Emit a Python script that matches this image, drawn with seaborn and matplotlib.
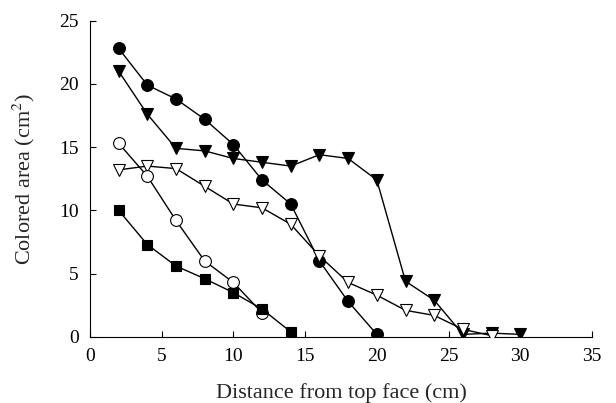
import matplotlib
matplotlib.use("Agg")
import matplotlib.pyplot as plt
import seaborn as sns
import pandas as pd

x_filled_circle = [2, 4, 6, 8, 10, 12, 14, 16, 18, 20]
y_filled_circle = [22.8, 19.9, 18.8, 17.2, 15.2, 12.4, 10.5, 6.0, 2.8, 0.2]

x_filled_tri = [2, 4, 6, 8, 10, 12, 14, 16, 18, 20, 22, 24, 26, 28, 30]
y_filled_tri = [21.0, 17.6, 14.9, 14.7, 14.1, 13.8, 13.5, 14.4, 14.1, 12.4, 4.4, 2.9, 0.2, 0.3, 0.2]

x_open_circle = [2, 4, 6, 8, 10, 12]
y_open_circle = [15.3, 12.7, 9.2, 6.0, 4.3, 1.9]

x_open_tri = [2, 4, 6, 8, 10, 12, 14, 16, 18, 20, 22, 24, 26, 28]
y_open_tri = [13.2, 13.5, 13.3, 11.9, 10.5, 10.2, 8.9, 6.4, 4.3, 3.3, 2.1, 1.7, 0.6, 0.1]

x_filled_sq = [2, 4, 6, 8, 10, 12, 14]
y_filled_sq = [10.0, 7.3, 5.6, 4.6, 3.5, 2.2, 0.4]

x_ticks = [0, 5, 10, 15, 20, 25, 30, 35]
y_ticks = [0, 5, 10, 15, 20, 25]

sns.set_theme(style="ticks")
plt.rcParams['font.family'] = ['Liberation Serif', 'DejaVu Serif']
plt.rcParams['mathtext.fontset'] = 'stix'

fig = plt.figure(figsize=(6.16, 4.03), dpi=100)
ax = fig.add_axes([0.146, 0.164, 0.815, 0.785])

series = [
    (x_filled_tri, y_filled_tri, 'v', 'black', 9),
    (x_filled_circle, y_filled_circle, 'o', 'black', 8.5),
    (x_open_tri, y_open_tri, 'v', 'white', 9),
    (x_open_circle, y_open_circle, 'o', 'white', 8.5),
    (x_filled_sq, y_filled_sq, 's', 'black', 7.5),
]
for xs, ys, m, fc, ms in series:
    df = pd.DataFrame({'x': xs, 'y': ys})
    sns.lineplot(data=df, x='x', y='y', ax=ax, color='black', linewidth=1.0,
                 marker=m, markersize=ms, markerfacecolor=fc,
                 markeredgecolor='black', markeredgewidth=0.8, zorder=3)

ax.set_xlim(0, 35)
ax.set_ylim(0, 25)
ax.set_xticks(x_ticks)
ax.set_yticks(y_ticks)
ax.tick_params(direction='in', length=4, width=0.8, labelsize=14, pad=8, colors='black')
for s in ['top', 'right']:
    ax.spines[s].set_visible(False)
for s in ['left', 'bottom']:
    ax.spines[s].set_linewidth(0.8)
    ax.spines[s].set_color('black')
ax.set_xlabel('Distance from top face (cm)', fontsize=16, labelpad=13)
ax.set_ylabel(r'Colored area (cm$^2$)', fontsize=16, labelpad=16)
ax.grid(False)

fig.savefig('out.png', dpi=100)
